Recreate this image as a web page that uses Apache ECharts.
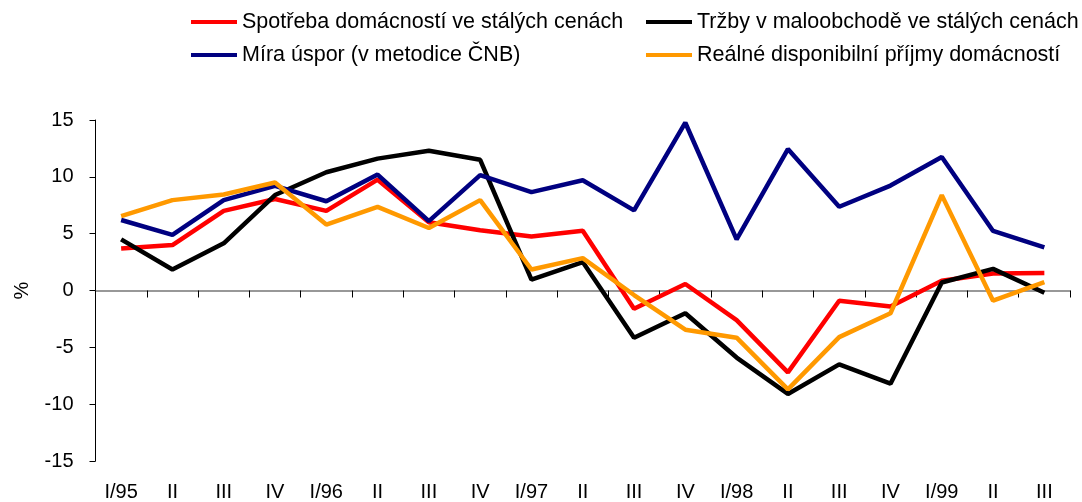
<!DOCTYPE html>
<html>
<head>
<meta charset="utf-8">
<script src="https://cdn.jsdelivr.net/npm/echarts@6/dist/echarts.min.js"></script>
<style>
    html, body {margin: 0; padding: 0; background: #fff;}
    #chartdiv {width: 1082px; height: 502px;}
</style>
</head>
<body>
<div id="chartdiv"></div>
<script>
// ctvrtleti 1995 - 1999
var kvartaly = ['I/95', 'II', 'III', 'IV', 'I/96', 'II', 'III', 'IV', 'I/97', 'II', 'III', 'IV',
    'I/98', 'II', 'III', 'IV', 'I/99', 'II', 'III'];

var spotreba = [3.7, 4.0, 7.0, 8.05, 7.0, 9.75, 6.0, 5.3, 4.75, 5.25, -1.6, 0.57, -2.6, -7.2, -0.9, -1.4, 0.85, 1.5, 1.55];
var trzby = [4.5, 1.85, 4.15, 8.4, 10.4, 11.6, 12.3, 11.5, 0.95, 2.5, -4.15, -2.0, -5.9, -9.1, -6.5, -8.2, 0.7, 1.9, -0.2];
var mira_uspor = [6.2, 4.9, 7.95, 9.2, 7.85, 10.2, 6.1, 10.15, 8.65, 9.7, 7.05, 14.76, 4.5, 12.44, 7.37, 9.23, 11.74, 5.24, 3.79];
var prijmy = [6.55, 7.95, 8.45, 9.5, 5.8, 7.35, 5.5, 7.95, 1.85, 2.85, -0.4, -3.45, -4.15, -8.7, -4.1, -2.0, 8.39, -0.9, 0.73];

var nazvy = ['Spotřeba domácností ve stálých cenách', 'Tržby v maloobchodě ve stálých cenách',
    'Míra úspor (v metodice ČNB)', 'Reálné disponibilní příjmy domácností'];

var font = 'Liberation Sans, Arial, sans-serif';

var chartDom = document.getElementById('chartdiv');
var myChart = echarts.init(chartDom);
var option;

var legenda = {
    orient: 'vertical',
    top: 11,
    padding: 0,
    icon: 'rect',
    itemWidth: 46,
    itemHeight: 4,
    itemGap: 11,
    textStyle: {fontFamily: font, fontSize: 21.5, color: '#000', lineHeight: 22}
};

function serie(name, data, color) {
    return {
        name: name,
        type: 'line',
        data: data,
        symbol: 'none',
        lineStyle: {color: color, width: 4.5},
        itemStyle: {color: color}
    };
}

option = {
    animation: false,
    backgroundColor: '#fff',
    legend: [
        Object.assign({}, legenda, {left: 191, data: [nazvy[0], nazvy[2]]}),
        Object.assign({}, legenda, {left: 646, data: [nazvy[1], nazvy[3]]})
    ],
    grid: {left: 95.5, right: 12, top: 120, bottom: 38.5},
    xAxis: [
        {
            type: 'category',
            data: kvartaly,
            boundaryGap: true,
            axisLine: {onZero: true, lineStyle: {color: '#777', width: 1.5}},
            axisTick: {show: true, length: 7, interval: 0, lineStyle: {color: '#000', width: 1}},
            axisLabel: {show: false}
        },
        {
            type: 'category',
            data: kvartaly,
            position: 'bottom',
            boundaryGap: true,
            axisLine: {show: false, onZero: false},
            axisTick: {show: false},
            axisLabel: {interval: 0, margin: 21, fontFamily: font, fontSize: 20, color: '#000'}
        }
    ],
    yAxis: {
        type: 'value',
        min: -15,
        max: 15,
        interval: 5,
        name: '%',
        nameLocation: 'middle',
        nameRotate: 90,
        nameGap: 63,
        nameTextStyle: {fontFamily: font, fontSize: 20, color: '#000'},
        splitLine: {show: false},
        axisLine: {show: true, lineStyle: {color: '#000', width: 1}},
        axisTick: {show: true, length: 6, lineStyle: {color: '#000'}},
        axisLabel: {margin: 22, fontFamily: font, fontSize: 20, color: '#000'}
    },
    series: [
        serie(nazvy[0], spotreba, '#ff0000'),
        serie(nazvy[1], trzby, '#000000'),
        serie(nazvy[2], mira_uspor, '#000080'),
        serie(nazvy[3], prijmy, '#ff9900')
    ]
};

option && myChart.setOption(option);
</script>
</body>
</html>
